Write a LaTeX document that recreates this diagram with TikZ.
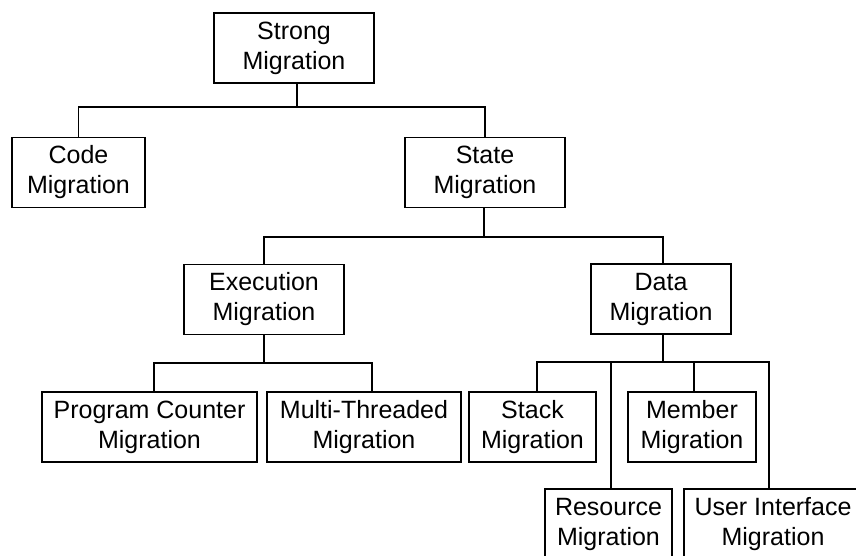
\documentclass[tikz,border=0pt]{standalone}
\usepackage{fontspec}
\setmainfont{Liberation Sans}
\usepackage{tikz}

\tikzset{
  mig/.style={draw, line width=1.4pt, align=center, minimum height=70pt,
    inner sep=0pt, font=\fontsize{25pt}{30pt}\selectfont},
  link/.style={line width=1.4pt},
}

\begin{document}
\begin{tikzpicture}[x=1pt, y=-1pt]
      \useasboundingbox (0,0) rectangle (856,556);
      \clip (0,0) rectangle (856,556);

      % Boxes
      \node[mig, minimum width=160pt] (strong) at (294,48)    {Strong\\Migration};
      \node[mig, minimum width=133pt] (code)   at (78.5,172.5) {Code\\Migration};
      \node[mig, minimum width=160pt] (state)  at (485,172.5) {State\\Migration};
      \node[mig, minimum width=160pt] (exec)   at (264,299.5) {Execution\\Migration};
      \node[mig, minimum width=140pt] (data)   at (661,299)   {Data\\Migration};
      \node[mig, minimum width=215pt] (pc)     at (149.5,427) {Program Counter\\Migration};
      \node[mig, minimum width=194pt] (mt)     at (364,427)   {Multi-Threaded\\Migration};
      \node[mig, minimum width=127pt] (stack)  at (532.5,427) {Stack\\Migration};
      \node[mig, minimum width=128pt] (member) at (692,427)   {Member\\Migration};
      \node[mig, minimum width=127pt] (res)    at (608.5,524) {Resource\\Migration};
      \node[mig, minimum width=178pt] (ui)     at (773,524)   {User Interface\\Migration};

      % Buses
      \coordinate (b1) at (297,107);
      \coordinate (b2) at (484,237);
      \coordinate (b3) at (264,363);
      \coordinate (b4) at (663,362);

      \draw[link] (strong.south -| b1) -- (b1) -| (code.north);
      \draw[link] (b1) -| (state.north);

      \draw[link] (state.south -| b2) -- (b2) -| (exec.north);
      \draw[link] (b2) -| ([xshift=2pt]data.north);

      \draw[link] (exec.south) -- (b3) -| ([xshift=4.5pt]pc.north);
      \draw[link] (b3) -| ([xshift=8pt]mt.north);

      \draw[link] (data.south -| b4) -- (b4) -| ([xshift=4.5pt]stack.north);
      \draw[link] (b4) -| ([xshift=2.5pt]res.north);
      \draw[link] (b4) -| ([xshift=2pt]member.north);
      \draw[link] (b4) -| ([xshift=-4pt]ui.north);
      %\fill (b4) circle (2pt);
\end{tikzpicture}
\end{document}
